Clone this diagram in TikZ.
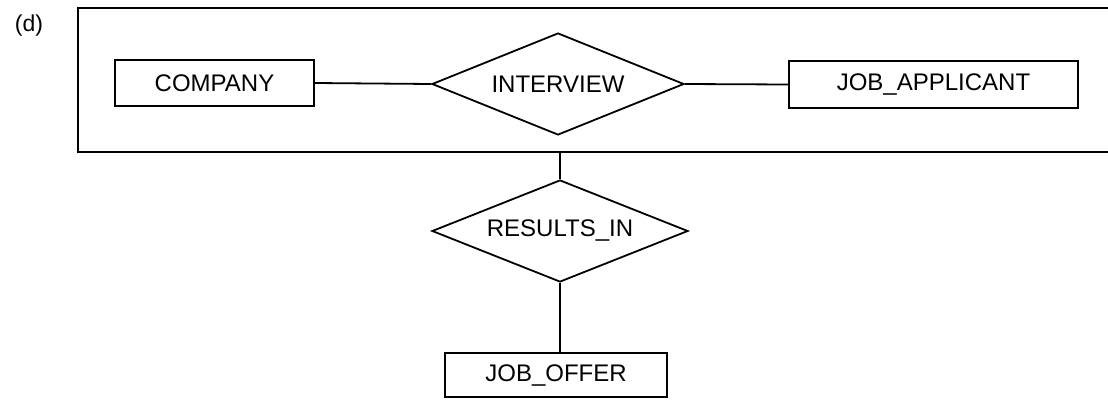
\documentclass[tikz,border=0pt]{standalone}
\usepackage{fontspec}
\setmainfont{Liberation Sans}
\usetikzlibrary{shapes.geometric}
\begin{document}
\begin{tikzpicture}[x=1pt,y=-1pt,
  line width=1.8pt,
  lbl/.style={font=\fontsize{24}{28}\selectfont},
  entity/.style={lbl,draw,rectangle,inner sep=0pt},
  relation/.style={lbl,draw,diamond,aspect=2.5,inner sep=0pt},
  link/.style={draw,line width=1.8pt}]
  \useasboundingbox (0,0) rectangle (1108,399);

  % aggregation box around the INTERVIEW relationship (open on the right)
  \node[draw,rectangle,inner sep=0pt,minimum width=1050pt,minimum height=144pt]
    (agg) at (603,80) {};

  \node[font=\fontsize{23}{27}\selectfont] (tag) at (29,26) {(d)};

  \node[entity,minimum width=199pt,minimum height=46pt] (company) at (214.5,83) {COMPANY};
  \node[relation,minimum width=252pt,minimum height=102pt] (interview) at (558,84) {INTERVIEW};
  \node[entity,minimum width=289pt,minimum height=47pt] (applicant) at (933.5,84.5) {JOB\_APPLICANT};

  \node[relation,minimum width=256pt,minimum height=102pt] (results) at (560,231) {RESULTS\_IN};
  \node[entity,minimum width=222pt,minimum height=44pt] (offer) at (556,375) {JOB\_OFFER};

  \draw[link] (company.east) -- (interview.west);
  \draw[link] (interview.east) -- (applicant.west);
  \draw[link] (results.north) -- (results.north |- agg.south);
  \draw[link] (results.south) -- (results.south |- offer.north);
\end{tikzpicture}
\end{document}
